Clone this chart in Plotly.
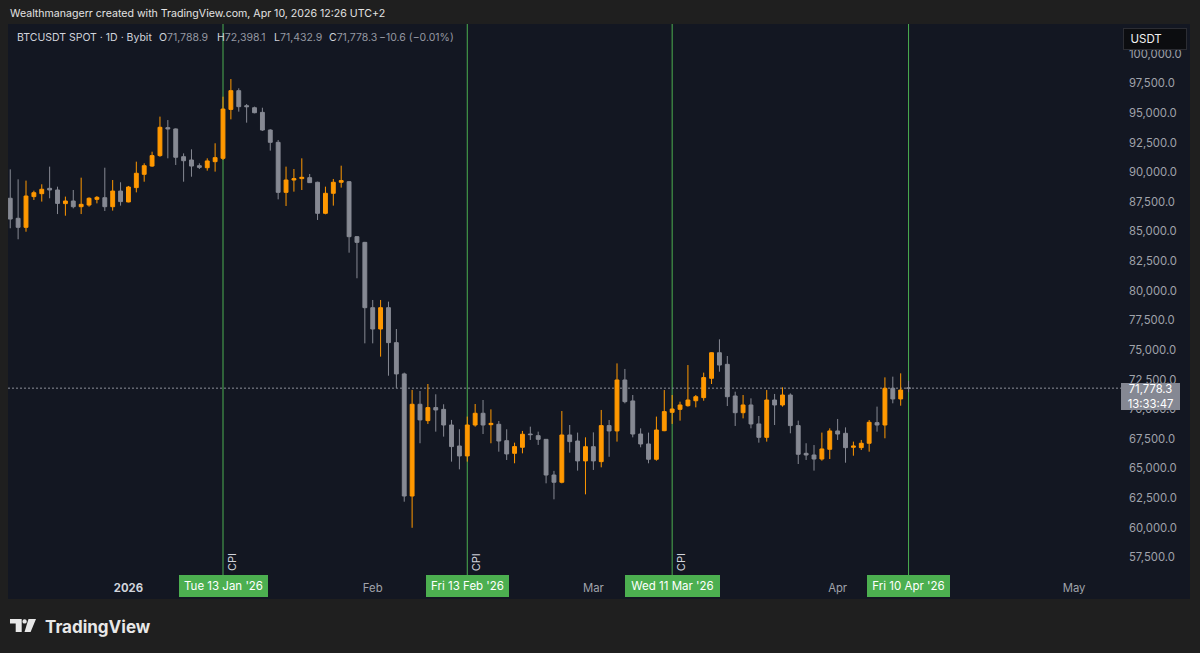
import pandas as pd
import plotly.graph_objects as go

# ---------------- data ----------------
dates = pd.date_range("2025-12-17", "2026-04-10", freq="D")

opens = [87800, 86110, 85350, 87940, 88190, 88640, 88500, 87350, 87570, 87090, 87230, 87710, 87850, 87090, 88410,
         87490, 88700, 89820, 90520, 91400, 93760, 93650, 91310, 91030, 90550, 90380, 90890, 91170, 95300, 96880,
         95610, 95440, 95050, 93560, 92520, 88300, 89340, 89460, 89540, 89150, 86530, 88220, 89150, 89200, 84560, 84080,
         78570, 76770, 78570, 75620, 72980, 62680, 70420, 69040, 70140, 69990, 68670, 66900, 66060, 68670, 69660,
         68700, 68730, 67350, 66280, 66790, 67910, 67770, 67460, 64450, 63840, 67830, 67320, 65640,
         66840, 65580, 68620, 68170, 72470, 70700, 67910, 67070, 65780, 68190, 69740, 69990, 70300, 70720, 70980,
         72610, 74770, 73790, 71120, 69710, 70360, 68760, 67630, 70780, 70360, 71200, 68620, 66280, 66140, 65800, 66620,
         68170, 67970, 66790, 66760, 67130, 68870, 68670, 71770, 70870, 71788.9]
highs = [90240, 89400, 89290, 88440, 88980, 90470, 88780, 87940, 88500, 89540, 87880, 87990, 90380, 89340, 89150,
         88840, 90890, 90750, 91730, 94690, 94400, 93700, 91590, 91930, 90750, 91170, 92440, 96370, 97860, 97080,
         95750, 95530, 95440, 93620, 92720, 90470, 90270, 91170, 89850, 89200, 88780, 89430, 90550, 89260, 84620, 84120,
         79220, 79220, 79080, 76770, 73090, 71630, 71540, 72130, 71260, 70420, 69100, 68310, 69380, 70440, 70780,
         69990, 69010, 68310, 67180, 68170, 68530, 68110, 67470, 64800, 69850, 68670, 68030, 67630,
         68050, 69940, 69090, 73870, 73400, 71200, 68390, 68030, 69380, 71620, 71200, 70640, 73730, 71200, 73090,
         74800, 75900, 74490, 71480, 71200, 70920, 69430, 71620, 71290, 71850, 71340, 69040, 67130, 66980, 68030, 68390,
         69180, 68470, 67270, 67410, 69090, 70220, 72690, 72750, 73030, 72398.1]
lows = [85270, 84340, 84980, 87660, 87520, 87800, 86470, 86330, 86950, 86470, 87090, 87370, 86730, 86760, 87180,
        87460, 88300, 89200, 90450, 91300, 91170, 90610, 89200, 89620, 90270, 90130, 90050, 91030, 94460, 95110,
        94180, 94970, 93480, 91820, 87710, 87150, 88360, 88500, 89120, 85970, 86450, 87180, 88700, 83210, 81050, 75560,
        75560, 74440, 72830, 71770, 62200, 60000, 67130, 68760, 68110, 67690, 65580, 64930, 65580, 68530, 67910,
        67130, 66420, 65720, 65440, 66280, 67410, 66990, 63750, 62400, 63750, 66340, 64820, 62820,
        64880, 65100, 65990, 67270, 70500, 67630, 66790, 65440, 65660, 68150, 68760, 69040, 70220, 70160, 70720,
        72130, 73170, 70270, 68590, 69230, 68390, 67180, 67270, 68670, 70220, 67970, 65380, 65720, 64820, 65660, 65800,
        67410, 65490, 66080, 66560, 66420, 68110, 67550, 70500, 70300, 71432.9]
closes = [86050, 85350, 87990, 88270, 88560, 88500, 87370, 87570, 87090, 87290, 87800, 87880, 87090, 88410, 87520,
          88750, 89910, 90550, 91400, 93790, 93650, 91260, 90970, 90520, 90410, 90950, 91230, 95330, 96880, 95530,
          95530, 95020, 93560, 92520, 88300, 89340, 89460, 89570, 89120, 86530, 88220, 89150, 89290, 84560, 84080, 78570,
          76770, 78570, 75620, 72980, 62680, 70420, 69100, 70140, 69940, 68670, 66850, 66060, 68670, 69660, 68670,
          68810, 67320, 66230, 66850, 67890, 67860, 67460, 64450, 63840, 67830, 67270, 65640, 66840,
          65640, 68620, 68170, 72470, 70640, 67910, 67070, 65780, 68250, 69800, 70020, 70360, 70780, 71060, 72670,
          74770, 73730, 71060, 69710, 70360, 68760, 67630, 70780, 70360, 71200, 68620, 66200, 66140, 65800, 66650, 68170,
          67910, 66760, 66900, 67130, 68900, 68670, 71770, 70870, 71620, 71778.3]

event_dates = ["2026-01-13", "2026-02-13", "2026-03-11", "2026-04-10"]
event_labels = ["Tue 13 Jan '26", "Fri 13 Feb '26", "Wed 11 Mar '26", "Fri 10 Apr '26"]
event_tags = ["CPI", "CPI", "CPI", ""]

month_ticks = ["2026-01-01", "2026-02-01", "2026-03-01", "2026-04-01", "2026-05-01"]
month_text = ["2026", "Feb", "Mar", "Apr", "May"]

price_ticks = list(range(57500, 100001, 2500))
last_price = 71778.3
countdown = "13:33:47"

assert len(dates) == len(opens) == len(highs) == len(lows) == len(closes)

# ---------------- layout geometry ----------------
W, H = 1200, 653
L, R, T, B = 8, 1110, 24, 575
FONT = "Inter, Roboto, sans-serif"


def px(x):
    return (x - L) / (R - L)


def py(y):
    return (B - y) / (B - T)


day0 = pd.Timestamp("2026-01-13")
ppd = 7.88
x_start = day0 - pd.Timedelta(days=(223 - L) / ppd)
x_end = day0 + pd.Timedelta(days=(R - 223) / ppd)
y_lo, y_hi = 56015, 102505

ORANGE = "#ff9800"
GREY = "#868993"
BG = "#131722"
OUTER = "#1f1f1f"

fig = go.Figure()
fig.add_trace(go.Candlestick(
    x=dates, open=opens, high=highs, low=lows, close=closes,
    increasing=dict(line=dict(color=ORANGE, width=1), fillcolor=ORANGE),
    decreasing=dict(line=dict(color=GREY, width=1), fillcolor=GREY),
    whiskerwidth=0, showlegend=False, hoverinfo="skip",
))

shapes = []
# pane background
shapes.append(dict(type="rect", xref="paper", yref="paper", x0=px(8), x1=px(1190), y0=py(599), y1=py(24),
                   fillcolor=BG, line=dict(width=0), layer="below"))
# event lines
for d in event_dates:
    shapes.append(dict(type="line", xref="x", yref="paper", x0=d, x1=d, y0=0, y1=1,
                       line=dict(color="#4caf50", width=1), layer="below"))
# last price dotted line
shapes.append(dict(type="line", xref="paper", yref="y", x0=0, x1=px(1121), y0=last_price, y1=last_price,
                   line=dict(color="#8c8f99", width=1, dash="2px,2px"), layer="below"))


# TradingView logo (approx)
def path(points):
    return "M" + " L".join(f"{px(a):.5f},{py(b):.5f}" for a, b in points) + " Z"


LOGO = "#e8e8e8"
shapes.append(dict(type="path", xref="paper", yref="paper",
                   path=path([(10, 619), (21.7, 619), (21.7, 632), (15.7, 632), (15.7, 623.5), (10, 623.5)]),
                   fillcolor=LOGO, line=dict(width=0)))
shapes.append(dict(type="circle", xref="paper", yref="paper", x0=px(22.4), x1=px(26.8), y0=py(623.6), y1=py(619.2),
                   fillcolor=LOGO, line=dict(width=0)))
shapes.append(dict(type="path", xref="paper", yref="paper",
                   path=path([(28.5, 619), (36, 619), (30.6, 632), (24.5, 632)]),
                   fillcolor=LOGO, line=dict(width=0)))

ann = []
ann.append(dict(x=px(8), y=py(13), xref="paper", yref="paper", xanchor="left", yanchor="middle", showarrow=False,
                text="Wealthmanagerr created with TradingView.com, Apr 10, 2026 12:26 UTC+2",
                font=dict(family=FONT, size=10.6, color="#e3e3e3")))

LEG_W = "#d1d4dc"
LEG_G = "#9598a1"
o, h, l, c = opens[-1], highs[-1], lows[-1], closes[-1]
chg = c - o
legend_parts = [
    (15, f"<span style='color:{LEG_W}'>BTCUSDT SPOT · 1D · Bybit</span>"),
    (157, f"<span style='color:{LEG_W}'>O</span><span style='color:{LEG_G}'>{o:,.1f}</span>"),
    (215, f"<span style='color:{LEG_W}'>H</span><span style='color:{LEG_G}'>{h:,.1f}</span>"),
    (272, f"<span style='color:{LEG_W}'>L</span><span style='color:{LEG_G}'>{l:,.1f}</span>"),
    (327, f"<span style='color:{LEG_W}'>C</span><span style='color:{LEG_G}'>{c:,.1f}</span>"),
    (377, f"<span style='color:{LEG_G}'>−{abs(chg):.1f} (−{abs(chg) / o * 100:.2f}%)</span>"),
]
for xx, tx in legend_parts:
    ann.append(dict(x=px(xx), y=py(37.5), xref="paper", yref="paper", xanchor="left", yanchor="middle",
                    showarrow=False, text=tx, font=dict(family=FONT, size=10.5, color=LEG_W)))

# USDT box
ann.append(dict(x=px(1155), y=py(39), xref="paper", yref="paper", xanchor="center", yanchor="middle",
                showarrow=False, text="&nbsp;&nbsp;USDT", align="left", width=62, height=20,
                bgcolor="#0c0d10", bordercolor="#2c2d33", borderwidth=1, borderpad=0,
                font=dict(family=FONT, size=11.5, color="#f0f0f0")))

# last price label
ann.append(dict(x=px(1150), y=py(396), xref="paper", yref="paper", xanchor="center", yanchor="middle",
                showarrow=False, text=f"{last_price:,.1f}<br>{countdown}", align="center", width=57, height=25,
                bgcolor="#858893", bordercolor="#858893", borderwidth=1, borderpad=0,
                font=dict(family=FONT, size=11.3, color="#ffffff")))

# event labels
box_w = [83, 77, 89, 77]
for d, lab, tag, bw in zip(event_dates, event_labels, event_tags, box_w):
    ann.append(dict(x=d, y=py(586), xref="x", yref="paper", xanchor="center", yanchor="middle", showarrow=False,
                    text=lab, width=bw, height=16, bgcolor="#4caf50", bordercolor="#4caf50", borderwidth=1,
                    borderpad=2, font=dict(family=FONT, size=11.5, color="#ffffff")))
    if tag:
        ann.append(dict(x=d, y=py(562), xref="x", yref="paper", xanchor="center", yanchor="middle",
                        showarrow=False, text=tag, textangle=-90, xshift=9,
                        font=dict(family=FONT, size=11, color="#d1d4dc")))

# TradingView wordmark
ann.append(dict(x=px(43), y=py(626.5), xref="paper", yref="paper", xanchor="left", yanchor="middle",
                showarrow=False, text="<b>TradingView</b>",
                font=dict(family=FONT, size=17, color=LOGO)))

tick_labels = [f"<b><span style='color:#d1d4dc'>{t}</span></b>" if i == 0 else t for i, t in enumerate(month_text)]

fig.update_layout(
    width=W, height=H, autosize=False,
    margin=dict(l=L, r=W - R, t=T, b=H - B, pad=0),
    paper_bgcolor=OUTER, plot_bgcolor=BG,
    shapes=shapes, annotations=ann, showlegend=False,
    font=dict(family=FONT, size=11.3, color="#a0a3ab"),
    xaxis=dict(type="date", range=[x_start, x_end], rangeslider=dict(visible=False),
               tickvals=month_ticks, ticktext=tick_labels, showgrid=False, zeroline=False, showline=False,
               ticks="", ticklabelstandoff=5, tickfont=dict(family=FONT, size=11.3, color="#a0a3ab"),
               fixedrange=True),
    yaxis=dict(side="right", range=[y_lo, y_hi], tickvals=price_ticks, tickformat=",.1f",
               showgrid=False, zeroline=False, showline=False, ticks="", ticklabelstandoff=18,
               tickfont=dict(family=FONT, size=11.3, color="#a0a3ab"), fixedrange=True),
    hovermode=False,
)

fig.write_html("out.html", config={"displayModeBar": False},
               post_script="document.body.style.margin='0px';document.body.style.background='#1f1f1f';")
